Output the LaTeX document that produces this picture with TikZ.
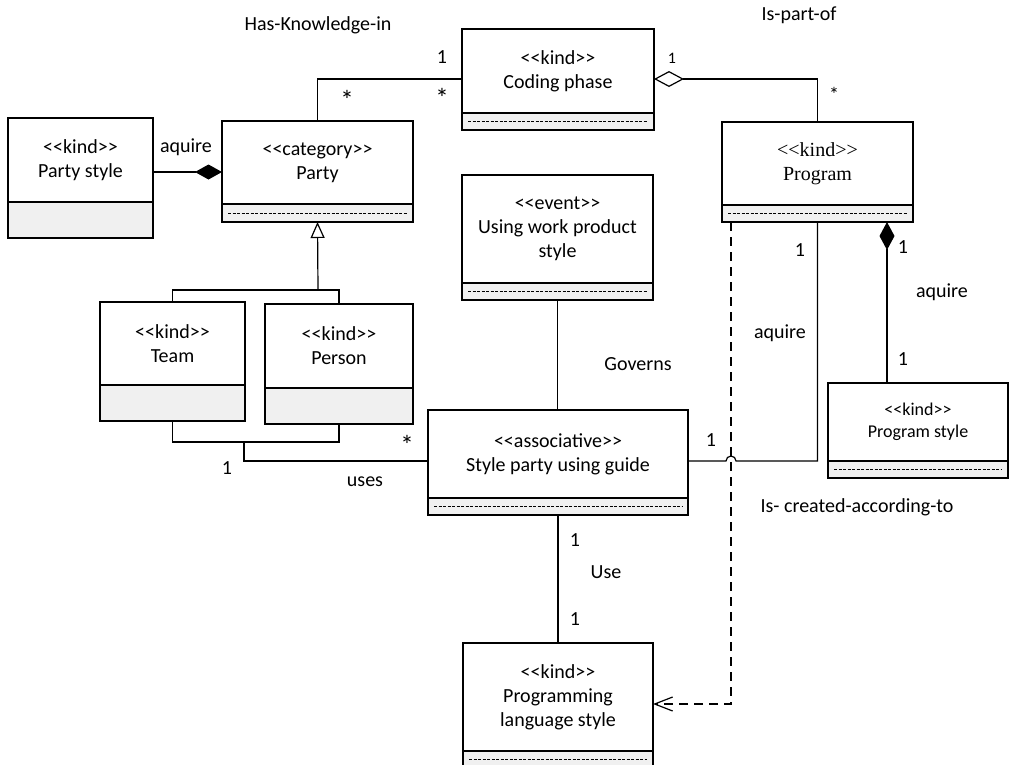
\documentclass[tikz,border=0pt]{standalone}
\usepackage{fontspec}
\setmainfont{Carlito}[Ligatures=TeXOff]
\newfontfamily\timesfont{Liberation Serif}[Ligatures=TeXOff]
\usepackage{xcolor}
\usepackage{tikz}
\usetikzlibrary{arrows.meta, positioning, calc}
\definecolor{attrgray}{RGB}{240, 240, 240}

\begin{document}
\begin{tikzpicture}[
    x=1pt, y=-1pt,
    cls/.style={draw, fill=white, line width=1.3pt, outer sep=0pt, inner sep=0pt, align=center, font=\fontsize{20}{24}\selectfont},
    attr/.style={draw, fill=attrgray, line width=1.3pt, outer sep=0pt, inner sep=0pt},
    attrdash/.style={line width=0.7pt, dash pattern=on 3pt off 1.5pt},
    lbl/.style={inner sep=0pt, font=\fontsize{20}{24}\selectfont},
    small/.style={inner sep=0pt, font=\fontsize{16}{19}\selectfont},
    star/.style={inner sep=0pt, font=\fontsize{27}{30}\selectfont},
    assoc/.style={line width=1.2pt},
    dep/.style={line width=1.2pt, dash pattern=on 9pt off 6pt, -{Straight Barb[length=18pt, width=14pt]}}
]
    \clip (0,0) rectangle (1009,764);

    % Classes
    \node[cls, minimum width=192pt, minimum height=84pt] (coding) at (558,71) {<<kind>>\\Coding phase};
    \node[attr, minimum width=192pt, minimum height=17pt, below=0pt of coding] (coding-a) {};

    \node[cls, minimum width=145pt, minimum height=84pt] (pstyle) at (80.5,160) {<<kind>>\\Party style};
    \node[attr, minimum width=145pt, minimum height=36pt, below=0pt of pstyle] (pstyle-a) {};

    \node[cls, minimum width=191pt, minimum height=83pt] (party) at (317.5,162.5) {<<category>>\\Party};
    \node[attr, minimum width=191pt, minimum height=18pt, below=0pt of party] (party-a) {};

    \node[cls, minimum width=191pt, minimum height=83pt, font=\fontsize{20}{24}\timesfont] (prog) at (817.5,163.5) {<<kind>>\\Program};
    \node[attr, minimum width=191pt, minimum height=17pt, below=0pt of prog] (prog-a) {};

    \node[cls, minimum width=191pt, minimum height=108pt] (wps) at (557.5,229) {<<event>>\\Using work product\\style};
    \node[attr, minimum width=191pt, minimum height=17pt, below=0pt of wps] (wps-a) {};

    \node[cls, minimum width=145pt, minimum height=83pt] (team) at (172.5,343.5) {<<kind>>\\Team};
    \node[attr, minimum width=145pt, minimum height=36pt, below=0pt of team] (team-a) {};

    \node[cls, minimum width=148pt, minimum height=84pt] (person) at (339,346) {<<kind>>\\Person};
    \node[attr, minimum width=148pt, minimum height=36pt, below=0pt of person] (person-a) {};

    \node[cls, minimum width=260pt, minimum height=88pt] (style) at (558,454) {<<associative>>\\Style party using guide};
    \node[attr, minimum width=260pt, minimum height=17pt, below=0pt of style] (style-a) {};

    \node[cls, minimum width=180pt, minimum height=78pt, font=\fontsize{18}{22}\selectfont] (pgs) at (918,422) {<<kind>>\\Program style};
    \node[attr, minimum width=180pt, minimum height=17pt, below=0pt of pgs] (pgs-a) {};

    \node[cls, minimum width=190pt, minimum height=108pt] (pls) at (558,697) {<<kind>>\\Programming\\language style};
    \node[attr, minimum width=190pt, minimum height=17pt, below=0pt of pls] (pls-a) {};

    \foreach \n in {coding-a, party-a, prog-a, wps-a, style-a, pgs-a, pls-a}
        \draw[attrdash] ([xshift=6pt]\n.west) -- ([xshift=-6pt]\n.east);

    % Joints
    \coordinate (genjoin) at (318,290);
    \coordinate (usejoin) at (244,442);

    % Connections
    \draw[assoc] (party.north) |- ([yshift=-8pt]coding.west);
    \draw[assoc, {Diamond[open, length=30pt, width=16pt]}-] ([yshift=-8pt]coding.east) -| (prog.north);
    \draw[assoc, -{Diamond[length=27pt, width=15pt]}] ([yshift=-12pt]pstyle.east) -- ([yshift=-12pt]pstyle.east -| party.west);
    \draw[assoc, -{Triangle[open, length=16pt, width=14pt]}] (genjoin) -- (party-a.south);
    \draw[assoc] (team.north) |- (genjoin) -| (person.north);
    \draw[assoc] (team-a.south) |- (usejoin) -| (person-a.south);
    \draw[assoc] (usejoin) |- ([yshift=-7pt]style.west);
    \draw[assoc] (wps-a.south) -- (wps-a.south |- style.north);
    \draw[assoc] ([yshift=-7pt]style.east) -- ++(38,0) arc[start angle=180, end angle=0, radius=5pt] -| (prog-a.south);
    \draw[assoc, {Diamond[length=28pt, width=15pt]}-] ([xshift=69.5pt]prog-a.south) -- ([xshift=69.5pt]prog-a.south |- pgs.north);
    \draw[dep] ([xshift=-86.5pt]prog-a.south) |- ([yshift=-7pt]pls.east);
    \draw[assoc] (style-a.south) -- (style-a.south |- pls.north);

    % Labels
    \node[lbl] (hk) at (318,25) {Has-Knowledge-in};
    \node[lbl] (hk-1) at (442,57) {1};
    \node[star] (hk-s1) at (347,100) {*};
    \node[star] (hk-s2) at (442,98) {*};
    \node[lbl] (ipo) at (799,15) {Is-part-of};
    \node[small] (ipo-1) at (672,58) {1};
    \node[lbl] (ipo-s) at (834,94) {*};
    \node[lbl] (aq1) at (186,147) {aquire};
    \node[lbl] (uses-1) at (227,468) {1};
    \node[lbl] (uses) at (365,482) {uses};
    \node[star] (uses-s) at (407,445) {*};
    \node[lbl] (gov) at (638,364) {Governs};
    \node[lbl] (aq2-1a) at (711,440) {1};
    \node[lbl] (aq2-1b) at (800,250) {1};
    \node[lbl] (aq2) at (780,333) {aquire};
    \node[lbl] (aq3-1a) at (903,247) {1};
    \node[lbl] (aq3) at (942,292) {aquire};
    \node[lbl] (aq3-1b) at (903,359) {1};
    \node[lbl] (ica) at (857,507) {Is- created-according-to};
    \node[lbl] (use-1a) at (575,540) {1};
    \node[lbl] (use) at (606,572) {Use};
    \node[lbl] (use-1b) at (575,619) {1};

\end{tikzpicture}
\end{document}
